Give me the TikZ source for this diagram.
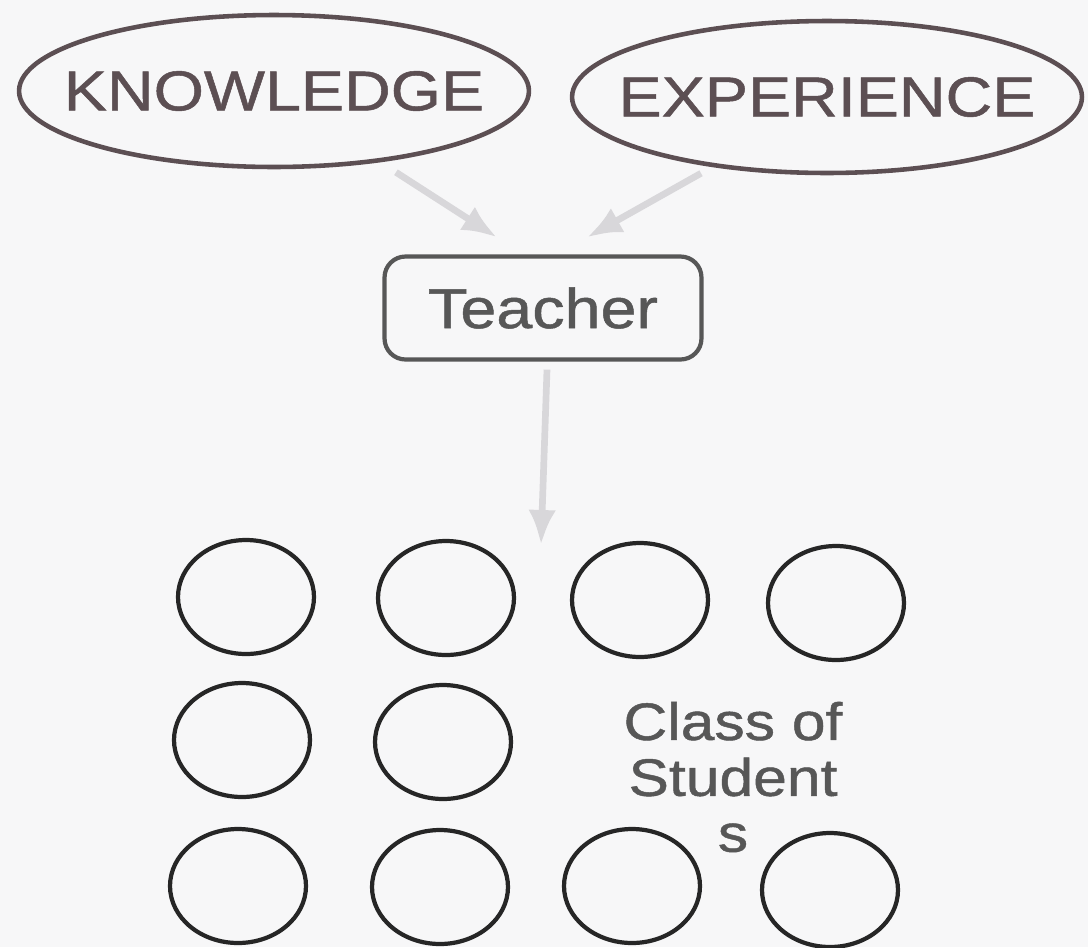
\documentclass[tikz,border=0pt]{standalone}
\usepackage{fontspec}
\setmainfont{Liberation Sans}
\newfontfamily\diagfont[FakeStretch=1.15, FakeBold=0.9]{Liberation Sans}
\usepackage{tikz}
\usetikzlibrary{shapes.geometric, arrows.meta, positioning}
\definecolor{paper}{HTML}{F7F7F8}
\definecolor{ovalink}{HTML}{5C4F53}
\definecolor{boxink}{HTML}{575757}
\definecolor{pupilink}{HTML}{262626}
\definecolor{arrowgray}{HTML}{D8D7DA}
\tikzset{
  FlowArrow/.style = {
    draw = arrowgray,
    line width = 3.8pt,
    -{Latex[length = 7mm, width = 5.5mm]},
  },
  IdeaOval/.style = {
    ellipse, draw = ovalink, line width = 2.6pt, text = ovalink,
    inner xsep = -0.8cm, inner ysep = 0pt,
    minimum width = 10.2cm, minimum height = 3.04cm,
    font = \diagfont\fontsize{32}{34}\selectfont,
  },
  RoleBox/.style = {
    rectangle, rounded corners = 0.42cm, draw = boxink, line width = 2.4pt,
    text = boxink, minimum width = 6.34cm, minimum height = 2.06cm,
    font = \diagfont\fontsize{32}{34}\selectfont,
  },
  Pupil/.style = {
    ellipse, draw = pupilink, line width = 2.4pt, inner sep = 0pt,
    minimum width = 2.72cm, minimum height = 2.28cm,
  }
}

\begin{document}
\begin{tikzpicture}[x = 0.02cm, y = -0.02cm]
      \path[use as bounding box, fill = paper] (0,0) rectangle (1088,947);
      \draw
        (274,91)node[IdeaOval](know1){KNOWLEDGE}
        (827,97)node[IdeaOval](exp1){EXPERIENCE}
        (543,308)node[RoleBox](teach1){Teacher};
      % the class
      \node[Pupil](s1) at (246,597) {};
      \node[Pupil](s2) at (446,598) {};
      \node[Pupil](s3) at (640,600) {};
      \node[Pupil](s4) at (836,603) {};
      \node[Pupil](s5) at (242,740) {};
      \node[Pupil](s6) at (443,742) {};
      \node[Pupil](s7) at (238,886) {};
      \node[Pupil](s8) at (440,887) {};
      \node[Pupil](s9) at (632,886) {};
      \node[Pupil](s10) at (830,890) {};
      \node[align = center, inner sep = 0pt, text = boxink,
        font = \diagfont\fontsize{30}{31.8}\selectfont](cls1) at (733,777)
        {Class of\\Student\\s};
      \coordinate (cls0) at (541,545);
      \draw ([xshift=2.44cm, yshift=-0.06cm]know1.south)[FlowArrow] -- ([xshift=-0.92cm, yshift=0.34cm]teach1.north);
      \draw ([xshift=-2.52cm, yshift=0.04cm]exp1.south)[FlowArrow] -- ([xshift=0.88cm, yshift=0.34cm]teach1.north);
      \draw ([xshift=0.08cm, yshift=-0.16cm]teach1.south)[FlowArrow] -- (cls0);
    \end{tikzpicture}
\end{document}
